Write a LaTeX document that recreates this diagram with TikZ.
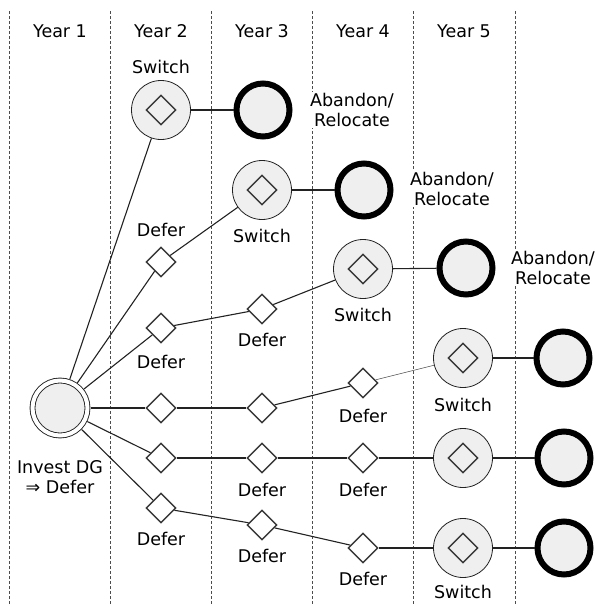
\documentclass[tikz,border=0pt]{standalone}
\usepackage{fontspec}
\setmainfont{DejaVu Sans}
\usetikzlibrary{shapes.geometric}
\definecolor{nodefill}{HTML}{EFEFEF}
\definecolor{ink}{HTML}{222222}
\tikzset{
  sw/.style={circle, draw=ink, line width=0.8pt, fill=nodefill, minimum size=59pt, inner sep=0pt},
  ab/.style={circle, draw=black, line width=6pt, fill=nodefill, minimum size=53pt, inner sep=0pt},
  dm/.style={diamond, draw=ink!90, line width=1.4pt, fill=white, minimum width=30pt, minimum height=30pt, inner sep=0pt, aspect=1},
  dmin/.style={diamond, draw=ink!90, line width=1.4pt, minimum width=30pt, minimum height=30pt, inner sep=0pt, aspect=1},
  rootnode/.style={circle, draw=ink, line width=0.9pt, double=white, double distance=4pt, fill=nodefill, minimum size=55pt, inner sep=0pt, outer sep=3pt},
  lbl/.style={fill=white, inner sep=1pt, align=center, font=\fontsize{17.5}{20.5}\selectfont},
  edge/.style={draw=ink, line width=1.1pt},
  thinedge/.style={draw=ink!80, line width=0.5pt},
  grid/.style={draw=black!70, line width=0.6pt, dash pattern=on 3pt off 2pt}
}
\begin{document}
\begin{tikzpicture}[x=1pt, y=-1pt]
\useasboundingbox (0,0) rectangle (596,605);
% dashed column separators
\foreach \xx in {9,110,211,312,413,515} {
  \draw[grid] (\xx,11) -- (\xx,605);
}
% year headers
\node[lbl] (y1) at (60,31) {Year 1};
\node[lbl] (y2) at (161,31) {Year 2};
\node[lbl] (y3) at (262,31) {Year 3};
\node[lbl] (y4) at (363,31) {Year 4};
\node[lbl] (y5) at (464,31) {Year 5};

% root
\node[rootnode] (r) at (60,408) {};
\node[lbl] (rl) at (60,477) {Invest DG\\⇒ Defer};

% row 1
\node[sw] (s1) at (161,110) {}; \node[dmin] (s1d) at (s1) {};
\node[ab] (a1) at (263,110) {};
\node[lbl] (s1l) at (161,67) {Switch};
\node[lbl] (a1l) at (352,110) {Abandon/\\Relocate};

% row 2
\node[dm] (d2a) at (161,262) {};
\node[lbl] (d2al) at (161,230) {Defer};
\node[sw] (s2) at (262,190) {}; \node[dmin] (s2d) at (s2) {};
\node[lbl] (s2l) at (262,236) {Switch};
\node[ab] (a2) at (364,190) {};
\node[lbl] (a2l) at (452,189) {Abandon/\\Relocate};

% row 3
\node[dm] (d3a) at (161,328) {};
\node[lbl] (d3al) at (161,362) {Defer};
\node[dm] (d3b) at (262,309) {};
\node[lbl] (d3bl) at (262,340) {Defer};
\node[sw] (s3) at (363,269) {}; \node[dmin] (s3d) at (s3) {};
\node[lbl] (s3l) at (363,315) {Switch};
\node[ab] (a3) at (466,268) {};
\node[lbl] (a3l) at (553,268) {Abandon/\\Relocate};

% row 4
\node[dm] (d4a) at (161,408) {};
\node[dm] (d4b) at (262,408) {};
\node[dm] (d4c) at (363,383) {};
\node[lbl] (d4cl) at (363,416) {Defer};
\node[sw] (s4) at (463,358) {}; \node[dmin] (s4d) at (s4) {};
\node[lbl] (s4l) at (463,405) {Switch};
\node[ab] (a4) at (563,358) {};

% row 5
\node[dm] (d5a) at (161,458) {};
\node[dm] (d5b) at (262,458) {};
\node[lbl] (d5bl) at (262,490) {Defer};
\node[dm] (d5c) at (363,458) {};
\node[lbl] (d5cl) at (363,490) {Defer};
\node[sw] (s5) at (463,458) {}; \node[dmin] (s5d) at (s5) {};
\node[ab] (a5) at (564,458) {};

% row 6
\node[dm] (d6a) at (161,508) {};
\node[lbl] (d6al) at (161,539) {Defer};
\node[dm] (d6b) at (262,525) {};
\node[lbl] (d6bl) at (262,556) {Defer};
\node[dm] (d6c) at (363,548) {};
\node[lbl] (d6cl) at (363,579) {Defer};
\node[sw] (s6) at (463,548) {}; \node[dmin] (s6d) at (s6) {};
\node[lbl] (s6l) at (463,592) {Switch};
\node[ab] (a6) at (564,548) {};

% connectors
\draw[edge] (r) -- (s1);
\draw[edge] (s1) -- (a1);
\draw[edge] (r) -- (d2a);
\draw[edge] (d2a) -- (s2);
\draw[edge] (s2) -- (a2);
\draw[edge] (r) -- (d3a);
\draw[edge] (d3a) -- (d3b);
\draw[edge] (d3b) -- (s3);
\draw[edge] (s3) -- (a3);
\draw[edge] (r) -- (d4a);
\draw[edge] (d4a) -- (d4b);
\draw[edge] (d4b) -- (d4c);
\draw[thinedge] (d4c) -- (s4);
\draw[edge] (s4) -- (a4);
\draw[edge] (r) -- (d5a);
\draw[edge] (d5a) -- (d5b);
\draw[edge] (d5b) -- (d5c);
\draw[edge] (d5c) -- (s5);
\draw[edge] (s5) -- (a5);
\draw[edge] (r) -- (d6a);
\draw[edge] (d6a) -- (d6b);
\draw[edge] (d6b) -- (d6c);
\draw[edge] (d6c) -- (s6);
\draw[edge] (s6) -- (a6);
\end{tikzpicture}
\end{document}
